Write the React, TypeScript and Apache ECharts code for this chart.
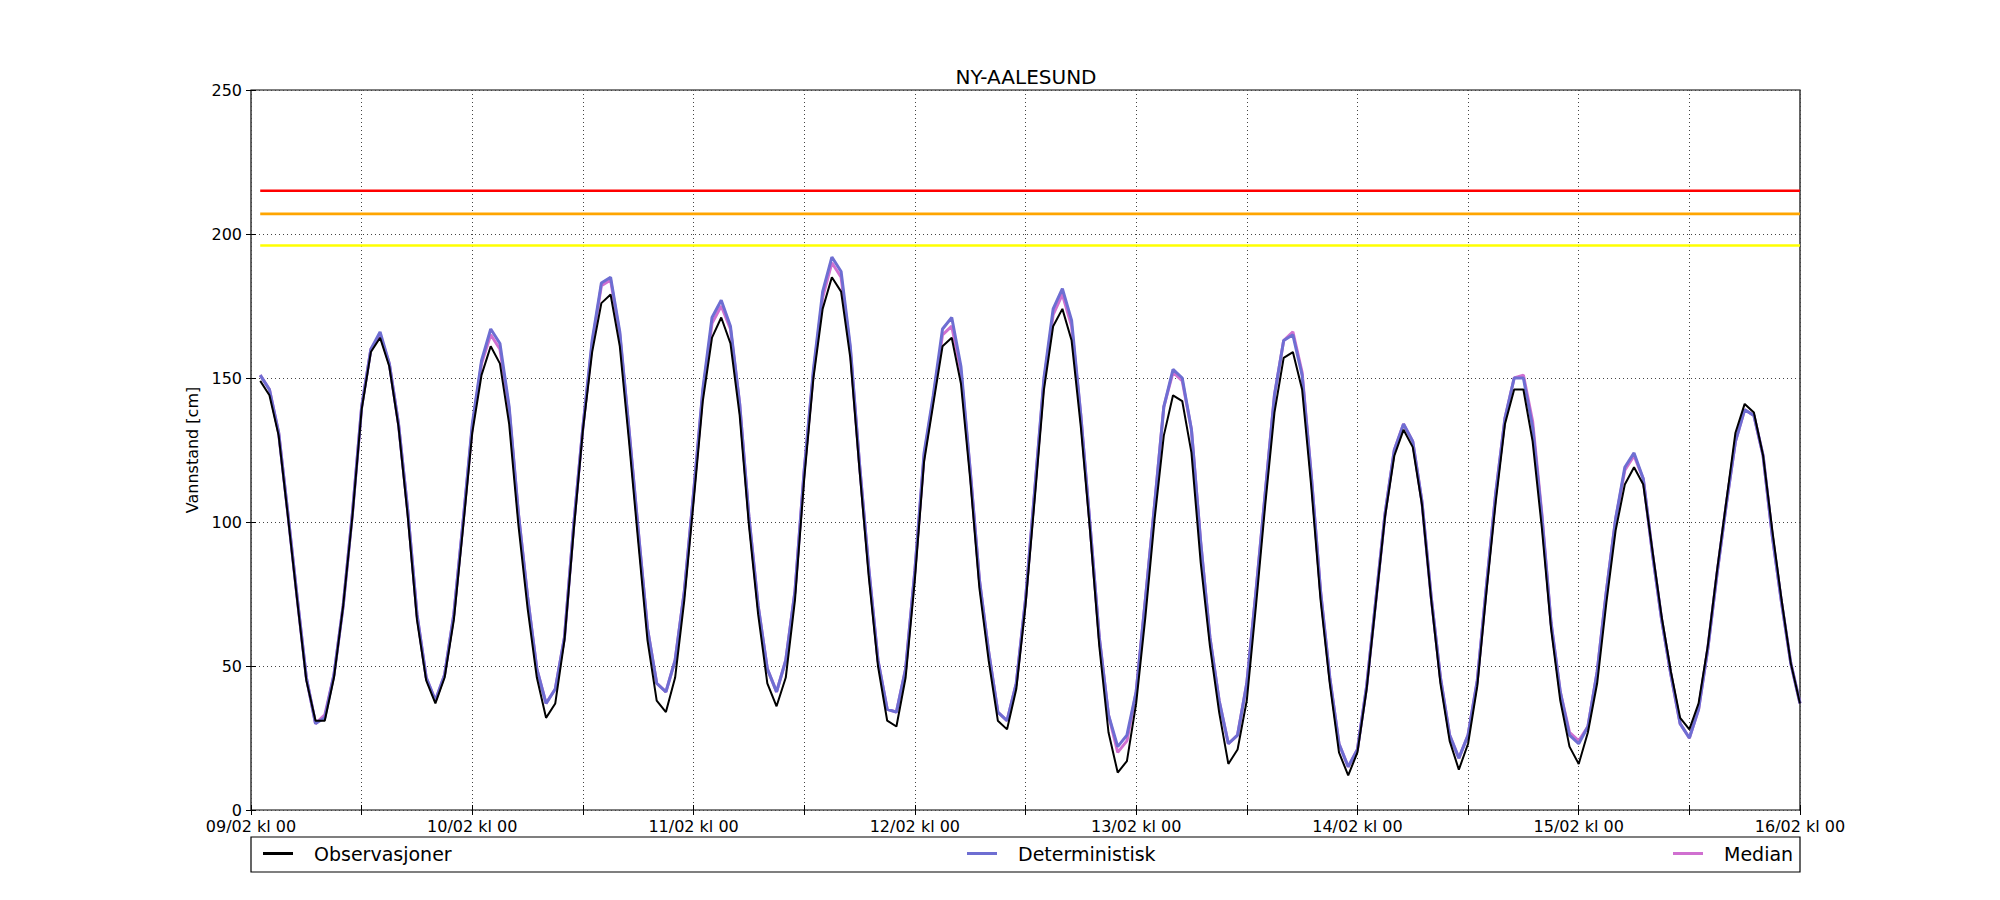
import React, { useEffect, useRef } from "react";
import * as echarts from "echarts";

const titleText = "NY-AALESUND";
const yAxisName = "Vannstand [cm]";
const dayLabels = [
  "09/02 kl 00", "10/02 kl 00", "11/02 kl 00", "12/02 kl 00",
  "13/02 kl 00", "14/02 kl 00", "15/02 kl 00", "16/02 kl 00",
];
// hours after 09/02 kl 00 (hourly, 1..168)
const hours = Array.from({ length: 168 }, (_, i) => i + 1);

const observasjoner = [
  149,144,130,102,73,45,31,31,46,71,102,139,159,164,154,133,102,66,45,37,46,66,98,131,
  151,161,155,134,99,70,46,32,37,59,97,132,159,176,179,161,128,93,59,38,34,46,73,107,
  142,164,171,162,137,99,68,44,36,46,73,115,150,174,185,180,157,118,81,50,31,29,46,80,
  121,141,161,164,148,115,77,52,31,28,42,71,108,146,168,174,163,133,97,57,27,13,17,37,
  67,101,130,144,142,124,86,57,34,16,21,38,71,106,138,157,159,146,112,73,44,20,12,20,
  42,72,102,123,132,126,106,73,44,24,14,23,43,76,107,134,146,146,128,98,63,38,22,16,
  27,44,72,97,113,119,113,90,67,48,32,28,37,57,83,107,131,141,138,123,97,73,51,37,
];

const deterministisk = [
  151,146,131,103,74,46,30,32,47,71,103,140,160,166,155,134,104,68,46,38,47,68,100,134,
  156,167,162,140,103,74,49,37,42,60,99,133,163,183,185,166,132,97,63,44,41,52,76,110,
  146,171,177,168,141,102,71,49,41,52,76,118,153,180,192,187,161,120,84,52,35,34,49,83,
  124,144,167,171,154,118,80,55,34,31,44,73,111,150,174,181,170,137,99,60,33,22,26,41,
  73,106,140,153,150,132,93,60,38,23,26,44,76,110,144,163,165,151,116,76,46,23,15,21,
  43,73,103,125,134,128,107,74,46,26,18,26,45,78,110,136,150,150,133,102,65,41,26,23,
  29,48,76,101,119,124,115,89,66,47,30,25,35,56,82,106,128,139,137,123,95,72,51,37,
];

const median = [
  151,146,131,103,74,46,30,33,47,71,103,140,160,165,155,134,104,68,46,38,47,68,100,133,
  155,165,160,139,103,74,49,37,42,60,99,133,162,182,184,165,132,97,63,44,41,52,76,110,
  145,169,175,167,141,102,71,49,41,52,76,118,152,178,190,185,160,120,84,52,35,34,49,83,
  123,143,165,168,152,118,80,55,34,31,44,73,111,149,172,179,168,137,99,60,33,20,24,41,
  73,106,140,152,149,132,93,60,38,23,26,44,76,110,144,163,166,152,116,76,46,23,15,21,
  43,73,103,125,134,128,107,74,46,26,18,26,45,78,110,136,150,151,135,103,65,41,27,24,
  29,48,76,101,118,123,115,89,66,47,30,25,35,56,82,106,128,139,137,123,95,72,51,37,
];

const thresholdLevels = [215, 207, 196];
const thresholdColors = ["#ff0000", "#ffa500", "#ffff00"];

const FONT = "DejaVu Sans";

export default function App() {
  const ref = useRef<HTMLDivElement>(null);

  useEffect(() => {
    document.body.style.margin = "0";
    if (!ref.current) return;
    const chart = echarts.init(ref.current, null, { renderer: "svg" });

    const pairs = (vals: number[]) => hours.map((h, i) => [h, vals[i]]);
    const first = hours[0];
    const last = hours[hours.length - 1];

    const thresholdSeries = thresholdLevels.map((lvl, i) => ({
      type: "line",
      name: "level" + i,
      data: [[first, lvl], [last, lvl]],
      showSymbol: false,
      symbol: "none",
      silent: true,
      z: 2,
      lineStyle: { color: thresholdColors[i], width: 2.6 },
      itemStyle: { color: thresholdColors[i] },
    }));

    const tickStyle = { show: true, inside: true, length: 5, lineStyle: { color: "#000", width: 1 } };

    const legendBase = {
      top: 844,
      padding: 0,
      icon: "rect",
      itemWidth: 30,
      itemHeight: 3,
      selectedMode: false,
      textStyle: { fontFamily: FONT, fontSize: 19, color: "#000", padding: [0, 0, 0, 16] },
    };

    chart.setOption({
      animation: false,
      backgroundColor: "#ffffff",
      textStyle: { fontFamily: FONT },
      title: {
        text: titleText,
        left: 1021,
        textAlign: "center",
        top: 62,
        textStyle: { fontFamily: FONT, fontSize: 20, fontWeight: "normal", color: "#000" },
      },
      grid: {
        left: 251,
        right: 200,
        top: 90,
        bottom: 90,
        show: true,
        borderColor: "#000",
        borderWidth: 1.2,
        backgroundColor: "transparent",
        containLabel: false,
      },
      xAxis: [
        {
          type: "value",
          min: 0,
          max: 168,
          interval: 12,
          axisLine: { show: false },
          axisTick: tickStyle,
          splitLine: { show: true, lineStyle: { color: "#444", width: 1, type: [1, 3] } },
          axisLabel: {
            fontFamily: FONT,
            fontSize: 16,
            lineHeight: 14,
            color: "#000",
            margin: 9,
            formatter: (v: number) => (v % 24 === 0 ? dayLabels[v / 24] : ""),
          },
        },
        {
          type: "value",
          position: "top",
          min: 0,
          max: 168,
          interval: 12,
          axisLine: { show: false },
          axisTick: tickStyle,
          splitLine: { show: false },
          axisLabel: { show: false },
        },
      ],
      yAxis: [
        {
          type: "value",
          min: 0,
          max: 250,
          interval: 50,
          name: yAxisName,
          nameLocation: "middle",
          nameGap: 43,
          nameTextStyle: { fontFamily: FONT, fontSize: 16, color: "#000" },
          axisLine: { show: false },
          axisTick: tickStyle,
          splitLine: { show: true, lineStyle: { color: "#444", width: 1, type: [1, 3] } },
          axisLabel: { fontFamily: FONT, fontSize: 16, lineHeight: 14, color: "#000", margin: 9 },
        },
        {
          type: "value",
          position: "right",
          min: 0,
          max: 250,
          interval: 50,
          axisLine: { show: false },
          axisTick: tickStyle,
          splitLine: { show: false },
          axisLabel: { show: false },
        },
      ],
      legend: [
        { ...legendBase, data: ["Observasjoner"], left: 263 },
        { ...legendBase, data: ["Deterministisk"], left: 967 },
        { ...legendBase, data: ["Median"], left: 1673 },
      ],
      graphic: [
        {
          type: "rect",
          z: -1,
          shape: { x: 251, y: 837, width: 1549, height: 35 },
          style: { fill: "#fff", stroke: "#000", lineWidth: 1.2 },
        },
      ],
      series: [
        ...thresholdSeries,
        {
          type: "line",
          name: "Median",
          data: pairs(median),
          showSymbol: false,
          symbol: "none",
          z: 3,
          color: "#d070d0",
          lineStyle: { color: "#d070d0", width: 3 },
          itemStyle: { color: "#d070d0" },
        },
        {
          type: "line",
          name: "Deterministisk",
          data: pairs(deterministisk),
          showSymbol: false,
          symbol: "none",
          z: 4,
          color: "#6e6ed2",
          lineStyle: { color: "#6e6ed2", width: 3 },
          itemStyle: { color: "#6e6ed2" },
        },
        {
          type: "line",
          name: "Observasjoner",
          data: pairs(observasjoner),
          showSymbol: false,
          symbol: "none",
          z: 5,
          color: "#000000",
          lineStyle: { color: "#000000", width: 2 },
          itemStyle: { color: "#000000" },
        },
      ],
    });

    return () => chart.dispose();
  }, []);

  return <div ref={ref} style={{ width: 2000, height: 900 }} />;
}
